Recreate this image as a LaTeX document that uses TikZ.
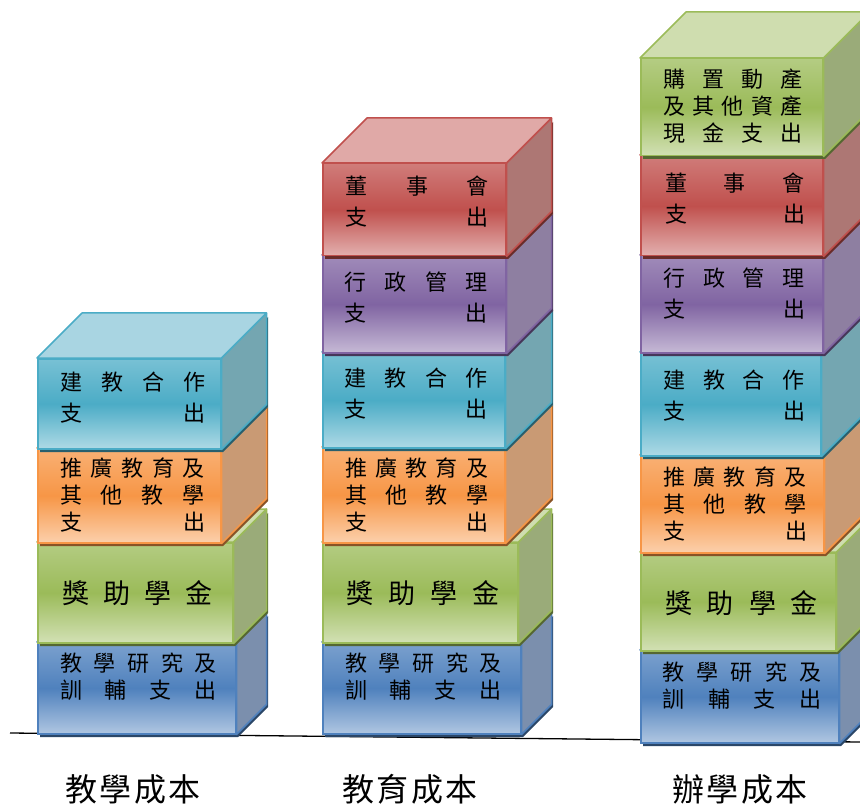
\documentclass[tikz,border=0pt]{standalone}
\usepackage{fontspec}
\newfontfamily\cjk{Noto Sans CJK TC}
\usepackage{xcolor}
\usepackage{tikz}

\definecolor{cBlue}{HTML}{4F81BD}\definecolor{cBlueS}{HTML}{7B8FAD}\definecolor{cBlueT}{HTML}{A7BFDE}
\definecolor{cRed}{HTML}{C0504D}\definecolor{cRedS}{HTML}{AD7774}\definecolor{cRedT}{HTML}{E0A9A7}
\definecolor{cGreen}{HTML}{9BBB59}\definecolor{cGreenS}{HTML}{9AAB79}\definecolor{cGreenT}{HTML}{CFDDAF}
\definecolor{cPurple}{HTML}{8064A2}\definecolor{cPurpleS}{HTML}{8E7FA1}\definecolor{cPurpleT}{HTML}{C0B2D3}
\definecolor{cAqua}{HTML}{4BACC6}\definecolor{cAquaS}{HTML}{74A6B1}\definecolor{cAquaT}{HTML}{A9D5E2}
\definecolor{cOrange}{HTML}{F79646}\definecolor{cOrangeS}{HTML}{C99A74}\definecolor{cOrangeT}{HTML}{FBCBA4}

\tikzset{
	front/.style={draw=#1, line width=1.5pt, top color=#1!75!white, bottom color=#1!45!white, middle color=#1, inner sep=0pt, anchor=north west},
	face/.style={draw=#1, line width=1.5pt, line join=round},
	txt/.style={align=center, inner sep=0pt, font=\cjk\fontsize{22}{31}\selectfont},
	txtthree/.style={txt, font=\cjk\fontsize{22}{27}\selectfont},
	txtbig/.style={txt, font=\cjk\fontsize{27}{30}\selectfont},
	costlbl/.style={inner sep=0pt, font=\cjk\fontsize{32}{34}\selectfont}
}
% name, colour, left, front right, top, bottom, depth
\newcommand{\cube}[7]{%
	\fill[#2!55!black] (#3+3,#5+4) -- (#4+3,#5+4) -- (#4+#7+3,#5-#7+4) -- (#4+#7+3,#6-#7+4) -- (#4+3,#6+4) -- (#3+3,#6+4) -- cycle;
	\node[front=#2, minimum width=#4-#3, minimum height=#6-#5] (#1) at (#3,#5) {};
	\filldraw[face=#2, fill=#2S] (#1.north east) -- ++(#7,-#7) -- ([shift={(#7,-#7)}]#1.south east) -- (#1.south east) -- cycle;
	\filldraw[face=#2, fill=#2T] (#1.north west) -- ++(#7,-#7) -- ([shift={(#7,-#7)}]#1.north east) -- (#1.north east) -- cycle;
}
\newcommand{\sline}[2][145]{\makebox[#1pt]{#2}}

\begin{document}
\begin{tikzpicture}[x=1pt, y=-1pt]
	\useasboundingbox (0,0) rectangle (860,805);
	\clip (0,0) rectangle (860,805);
	\coordinate (gl) at (10,733);
	\coordinate (gr) at (860,742);
	\draw[line width=1.3pt] (gl) -- (gr);

	% 教學成本
	\cube{a1}{cBlue}{37}{235}{642}{733}{30}
	\cube{a2}{cGreen}{37}{232}{542}{642}{33}
	\cube{a3}{cOrange}{37}{220}{448}{542}{45}
	\cube{a4}{cAqua}{37}{220}{358}{448}{45}
	\node[txtthree] (a1t) at (138.5,676.5) {\sline[157]{教\hfill 學\hfill 研\hfill 究\hfill 及}\\ \sline[157]{訓\hfill 輔\hfill 支\hfill 出}};
	\node[txtbig] (a2t) at (137.5,593) {\sline[151]{獎\hfill 助\hfill 學\hfill 金}};
	\node[txtthree] (a3t) at (132.5,494.5) {\sline{推\hfill 廣\hfill 教\hfill 育\hfill 及}\\ \sline{其\hfill 他\hfill 教\hfill 學}\\ \sline{支\hfill 出}};
	\node[txt] (a4t) at (133,397.5) {\sline{建\hfill 教\hfill 合\hfill 作}\\ \sline{支\hfill 出}};

	% 教育成本
	\cube{b1}{cBlue}{322}{520}{642}{733}{30}
	\cube{b2}{cGreen}{322}{517}{542}{642}{33}
	\cube{b3}{cOrange}{322}{504}{447}{542}{46}
	\cube{b4}{cAqua}{322}{504}{352}{447}{46}
	\cube{b5}{cPurple}{322}{505}{255}{352}{45}
	\cube{b6}{cRed}{322}{505}{163}{255}{45}
	\node[txtthree] (b1t) at (423.5,676.5) {\sline[157]{教\hfill 學\hfill 研\hfill 究\hfill 及}\\ \sline[157]{訓\hfill 輔\hfill 支\hfill 出}};
	\node[txtbig] (b2t) at (423,593) {\sline[153]{獎\hfill 助\hfill 學\hfill 金}};
	\node[txtthree] (b3t) at (416.5,495) {\sline[143]{推\hfill 廣\hfill 教\hfill 育\hfill 及}\\ \sline[143]{其\hfill 他\hfill 教\hfill 學}\\ \sline[143]{支\hfill 出}};
	\node[txt] (b4t) at (416,394) {\sline[143]{建\hfill 教\hfill 合\hfill 作}\\ \sline[143]{支\hfill 出}};
	\node[txt] (b5t) at (416,297.5) {\sline[143]{行\hfill 政\hfill 管\hfill 理}\\ \sline[143]{支\hfill 出}};
	\node[txt] (b6t) at (417,201.5) {\sline[143]{董\hfill 事\hfill 會}\\ \sline[143]{支\hfill 出}};

	% 辦學成本
	\cube{c1}{cBlue}{640}{838}{650}{742}{30}
	\cube{c2}{cGreen}{640}{835}{552}{650}{33}
	\cube{c3}{cOrange}{640}{823}{455}{552}{45}
	\cube{c4}{cAqua}{640}{820}{352}{455}{48}
	\cube{c5}{cPurple}{640}{822}{255}{352}{46}
	\cube{c6}{cRed}{640}{822}{155}{255}{46}
	\cube{c7}{cGreen}{640}{822}{58}{155}{46}
	\node[txtthree] (c1t) at (742,686) {\sline[159]{教\hfill 學\hfill 研\hfill 究\hfill 及}\\ \sline[159]{訓\hfill 輔\hfill 支\hfill 出}};
	\node[txtbig] (c2t) at (741.5,603) {\sline[153]{獎\hfill 助\hfill 學\hfill 金}};
	\node[txtthree] (c3t) at (735,504) {\sline[144]{推\hfill 廣\hfill 教\hfill 育\hfill 及}\\ \sline[144]{其\hfill 他\hfill 教\hfill 學}\\ \sline[144]{支\hfill 出}};
	\node[txt] (c4t) at (734,396) {\sline[142]{建\hfill 教\hfill 合\hfill 作}\\ \sline[142]{支\hfill 出}};
	\node[txt] (c5t) at (734,293.5) {\sline[142]{行\hfill 政\hfill 管\hfill 理}\\ \sline[142]{支\hfill 出}};
	\node[txt] (c6t) at (735,199) {\sline[140]{董\hfill 事\hfill 會}\\ \sline[140]{支\hfill 出}};
	\node[txtthree] (c7t) at (733,106) {\sline[140]{購\hfill 置\hfill 動\hfill 產}\\ \sline[140]{及\hfill 其\hfill 他\hfill 資\hfill 產}\\ \sline[140]{現\hfill 金\hfill 支\hfill 出}};

	\node[costlbl] (l1) at (133,789) {\sline[135]{教\hfill 學\hfill 成\hfill 本}};
	\node[costlbl] (l2) at (410,789) {\sline[135]{教\hfill 育\hfill 成\hfill 本}};
	\node[costlbl] (l3) at (740,789) {\sline[135]{辦\hfill 學\hfill 成\hfill 本}};
\end{tikzpicture}
\end{document}
